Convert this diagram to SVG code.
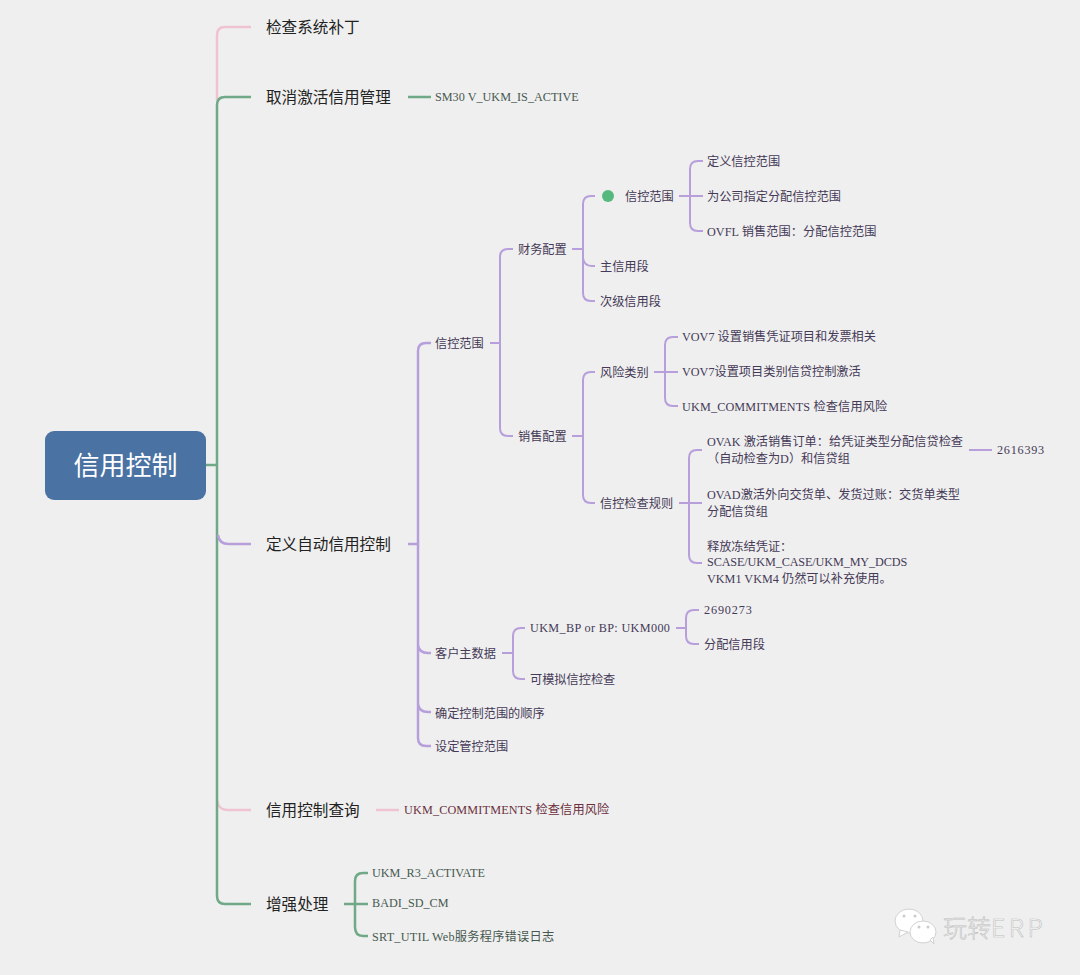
<svg xmlns="http://www.w3.org/2000/svg" width="1080" height="975" viewBox="0 0 1080 975">
<style>
text{font-family:"Liberation Serif","Noto Sans CJK SC",serif}
.c{fill:none;stroke-linecap:butt}
.p{stroke:#b79fdc;stroke-width:2}
.g{stroke:#6fa987;stroke-width:2.5}
.k{stroke:#efc3cf;stroke-width:2.5}
.l1{font-size:15.600px;fill:#222;font-family:"Noto Sans CJK SC",sans-serif}
.t{font-size:12.2px;fill:#453a57}
.gt{font-size:12.2px;fill:#47594f}
.rt{font-size:12.2px;fill:#6b2f3d}
</style>
<rect width="1080" height="975" fill="#efefef"/>
<g id="connectors">
<path class="c k" d="M217 100V35Q217 27 225 27H251"/>
<path class="c k" d="M217 800Q218 810 228 810H251"/>
<path class="c k" d="M376 810H399"/>
<path class="c g" d="M206 465H217"/>
<path class="c g" d="M217 465V105Q217 97 225 97H251"/>
<path class="c g" d="M217 465V896Q217 904 225 904H251"/>
<path class="c g" d="M408 97H431"/>
<path class="c p" style="stroke-width:2.5" d="M218 535Q219 544 229 544H251"/>
<path class="c p" style="stroke-width:2.5" d="M408 544H418M418 351Q418 343 426 343H431M418 351V738Q418 746 426 746H431M418 645Q419 653 428 653H431M418 704Q419 712 428 712H431"/>
<path class="c p" d="M490 343H500M500 257Q500 249 508 249H513M500 257V428Q500 436 508 436H513"/>
<path class="c p" d="M572 249H583M583 204Q583 196 591 196H595M583 204V293Q583 301 591 301H595M583 258Q584 266 592 266H595"/>
<path class="c p" d="M679 196H690M690 169Q690 161 698 161H703M690 169V223Q690 231 698 231H703M690 196H703"/>
<path class="c p" d="M572 436H583M583 380Q583 372 591 372H595M583 380V495Q583 503 591 503H595"/>
<path class="c p" d="M654 372H665M665 345Q665 337 673 337H678M665 345V398Q665 406 673 406H678M665 372H678"/>
<path class="c p" d="M679 503H689M689 458Q689 450 697 450H702M689 458V555Q689 563 697 563H702M689 503H702"/>
<path class="c p" d="M969 450H992"/>
<path class="c p" d="M502 653H513M513 636Q513 628 521 628H525M513 636V671Q513 679 521 679H525"/>
<path class="c p" d="M676 628H686M686 618Q686 610 694 610H699M686 618V636Q686 644 694 644H699"/>
<path class="c g" d="M344 904H355M355 881Q355 873 363 873H368M355 881V927Q355 936 363 936H368M355 904H368"/>
</g>
<g id="root"><rect x="45" y="431" width="161" height="69" rx="9" fill="#4a72a3"/><text x="125.500" y="475" text-anchor="middle" style="font-family:'Noto Sans CJK SC',sans-serif;font-size:26px;fill:#fff">信用控制</text></g>
<g id="n1"><text class="l1" x="266" y="33">检查系统补丁</text></g>
<g id="n2"><text class="l1" x="266" y="103">取消激活信用管理</text></g>
<g id="n3"><text class="gt" x="435" y="101">SM30 V_UKM_IS_ACTIVE</text></g>
<g id="n4"><text class="l1" x="266" y="550">定义自动信用控制</text></g>
<g id="n5"><text class="t" x="435" y="348">信控范围</text></g>
<g id="n6"><text class="t" x="518" y="254">财务配置</text></g>
<g id="n7"><circle cx="608" cy="196" r="6" fill="#55b97f"/><text class="t" x="625" y="201">信控范围</text></g>
<g id="n8"><text class="t" x="707" y="166">定义信控范围</text></g>
<g id="n9"><text class="t" x="707" y="201">为公司指定分配信控范围</text></g>
<g id="n10"><text class="t" x="707" y="236" letter-spacing=".06">OVFL 销售范围：分配信控范围</text></g>
<g id="n11"><text class="t" x="600" y="271">主信用段</text></g>
<g id="n12"><text class="t" x="600" y="306">次级信用段</text></g>
<g id="n13"><text class="t" x="518" y="441">销售配置</text></g>
<g id="n14"><text class="t" x="600" y="377">风险类别</text></g>
<g id="n15"><text class="t" x="682" y="341">VOV7 设置销售凭证项目和发票相关</text></g>
<g id="n16"><text class="t" x="682" y="376">VOV7设置项目类别信贷控制激活</text></g>
<g id="n17"><text class="t" x="682" y="411" letter-spacing=".15">UKM_COMMITMENTS 检查信用风险</text></g>
<g id="n18"><text class="t" x="600" y="508">信控检查规则</text></g>
<g id="n19"><text class="t" x="707" y="446">OVAK 激活销售订单：给凭证类型分配信贷检查</text><text class="t" x="707" y="463">（自动检查为D）和信贷组</text></g>
<g id="n20"><text class="t" x="997" y="454" letter-spacing=".75">2616393</text></g>
<g id="n21"><text class="t" x="707" y="499">OVAD激活外向交货单、发货过账：交货单类型</text><text class="t" x="707" y="516">分配信贷组</text></g>
<g id="n22"><text class="t" x="707" y="551">释放冻结凭证：</text><text class="t" x="707" y="566" letter-spacing="-.12">SCASE/UKM_CASE/UKM_MY_DCDS</text><text class="t" x="707" y="583">VKM1 VKM4 仍然可以补充使用。</text></g>
<g id="n23"><text class="t" x="435" y="658">客户主数据</text></g>
<g id="n24"><text class="t" x="530" y="632" letter-spacing=".35">UKM_BP or BP: UKM000</text></g>
<g id="n25"><text class="t" x="704" y="614" letter-spacing=".85">2690273</text></g>
<g id="n26"><text class="t" x="704" y="649">分配信用段</text></g>
<g id="n27"><text class="t" x="530" y="684">可模拟信控检查</text></g>
<g id="n28"><text class="t" x="435" y="718">确定控制范围的顺序</text></g>
<g id="n29"><text class="t" x="435" y="751">设定管控范围</text></g>
<g id="n30"><text class="l1" x="266" y="816">信用控制查询</text></g>
<g id="n31"><text class="rt" x="404" y="814" letter-spacing=".15">UKM_COMMITMENTS 检查信用风险</text></g>
<g id="n32"><text class="l1" x="266" y="910">增强处理</text></g>
<g id="n33"><text class="gt" x="372" y="877">UKM_R3_ACTIVATE</text></g>
<g id="n34"><text class="gt" x="372" y="907">BADI_SD_CM</text></g>
<g id="n35"><text class="gt" x="372" y="941" letter-spacing=".25">SRT_UTIL Web服务程序错误日志</text></g>
<g id="watermark">
<ellipse cx="909" cy="921" rx="14" ry="12" fill="#fff" stroke="#d2d2d2"/>
<path d="M900 930L899 937L908 932Z" fill="#fff" stroke="#d2d2d2"/>
<ellipse cx="923" cy="932" rx="13" ry="11" fill="#fff" stroke="#d2d2d2"/>
<path d="M930 940L934 944L933 937Z" fill="#fff" stroke="#d2d2d2"/>
<circle cx="904" cy="916" r="1.500" fill="#ccc"/><circle cx="915" cy="916" r="1.500" fill="#ccc"/><circle cx="919" cy="927" r="1.500" fill="#ccc"/><circle cx="928" cy="927" r="1.500" fill="#ccc"/>
<text x="943" y="937" style="font-family:'Noto Sans CJK SC',sans-serif;font-size:24px;font-weight:300;fill:#fff;stroke:#bdbdbd;stroke-width:.6">玩转<tspan letter-spacing="3.500" font-size="25">ERP</tspan></text>
</g>
</svg>
